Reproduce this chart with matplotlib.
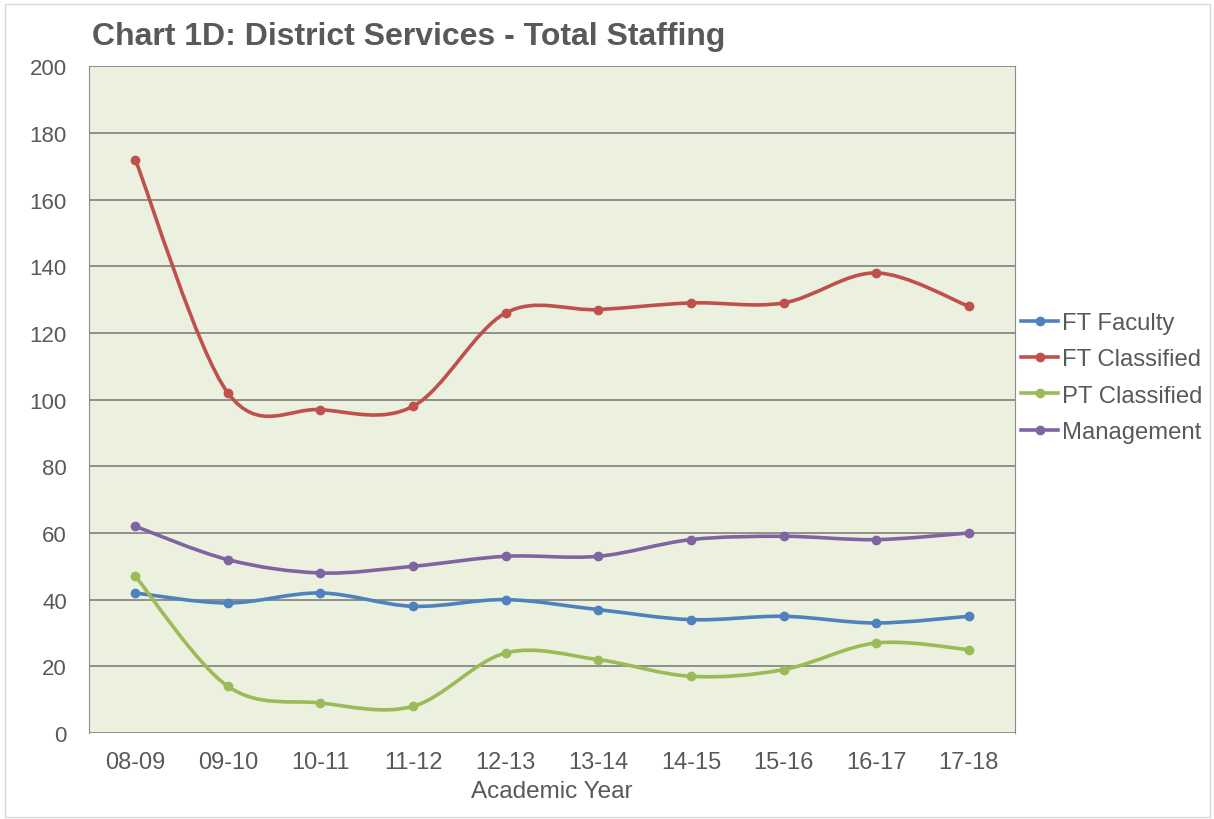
"""Chart 1D: District Services - Total Staffing."""
import numpy as np
import matplotlib
matplotlib.use("Agg")
import matplotlib.pyplot as plt
from matplotlib.path import Path
from matplotlib.patches import PathPatch, Rectangle
from matplotlib.lines import Line2D

years = ["08-09", "09-10", "10-11", "11-12", "12-13",
         "13-14", "14-15", "15-16", "16-17", "17-18"]
ft_faculty = [42, 39, 42, 38, 40, 37, 34, 35, 33, 35]
ft_classified = [172, 102, 97, 98, 126, 127, 129, 129, 138, 128]
pt_classified = [47, 14, 9, 8, 24, 22, 17, 19, 27, 25]
management = [62, 52, 48, 50, 53, 53, 58, 59, 58, 60]

series = [("FT Faculty", ft_faculty, "#4F81BD"),
          ("FT Classified", ft_classified, "#C0504D"),
          ("PT Classified", pt_classified, "#9BBB59"),
          ("Management", management, "#8064A2")]

TXT = "#595959"
plt.rcParams["font.family"] = ["Liberation Sans", "DejaVu Sans"]


def smooth_path(x, y):
    # Excel-like smoothed line: Catmull-Rom as cubic Bezier segments
    pts = np.column_stack([x, y]).astype(float)
    n = len(pts)
    verts = [pts[0]]
    codes = [Path.MOVETO]
    for i in range(n - 1):
        p0 = pts[i - 1] if i > 0 else pts[i]
        p1, p2 = pts[i], pts[i + 1]
        p3 = pts[i + 2] if i + 2 < n else pts[i + 1]
        c1 = p1 + (p2 - p0) / 6.0
        c2 = p2 - (p3 - p1) / 6.0
        verts += [c1, c2, p2]
        codes += [Path.CURVE4] * 3
    return Path(verts, codes)


fig = plt.figure(figsize=(12.14, 8.2), dpi=100)
fig.patches.append(Rectangle((0.004, 0.003), 0.993, 0.991, transform=fig.transFigure,
                             fill=False, edgecolor="#D9D9D9", lw=1))
ax = fig.add_axes([0.0733, 0.1049, 0.7628, 0.8131])
ax.set_facecolor("#EBF1DE")

x = np.arange(len(years))
handles = []
for name, vals, col in series:
    ax.add_patch(PathPatch(smooth_path(x, vals), facecolor="none",
                           edgecolor=col, lw=2.6, zorder=3))
    ax.plot(x, vals, ls="none", marker="o", ms=6, color=col, zorder=4)
    handles.append(Line2D([], [], color=col, lw=2.6, marker="o", ms=6))

ax.set_xlim(-0.5, len(years) - 0.5)
ax.set_ylim(0, 200)
ax.set_yticks(np.arange(0, 201, 20))
ax.set_xticks(x)
ax.set_xticklabels(years)
ax.tick_params(length=0, colors=TXT)
ax.tick_params(axis="x", labelsize=17, pad=13)
ax.tick_params(axis="y", labelsize=16, pad=16)
ax.grid(axis="y", color="#7F7F7F", lw=1.2)
ax.set_axisbelow(True)
for s in ax.spines.values():
    s.set_color("#8C8C8C")
ax.spines["bottom"].set_visible(False)
ax.spines["top"].set_visible(False)
ax.set_xlabel("Academic Year", fontsize=17.5, color=TXT, labelpad=5)

fig.text(0.076, 0.955, "Chart 1D: District Services - Total Staffing",
         fontsize=23, fontweight="bold", color=TXT, va="center")

fig.legend(handles, [s[0] for s in series], loc="center left",
           bbox_to_anchor=(0.8335, 0.5385), frameon=False, fontsize=17.2,
           labelcolor=TXT, handlelength=1.55, handletextpad=0.15,
           labelspacing=0.6, borderaxespad=0)

fig.savefig("out.png", dpi=100)
